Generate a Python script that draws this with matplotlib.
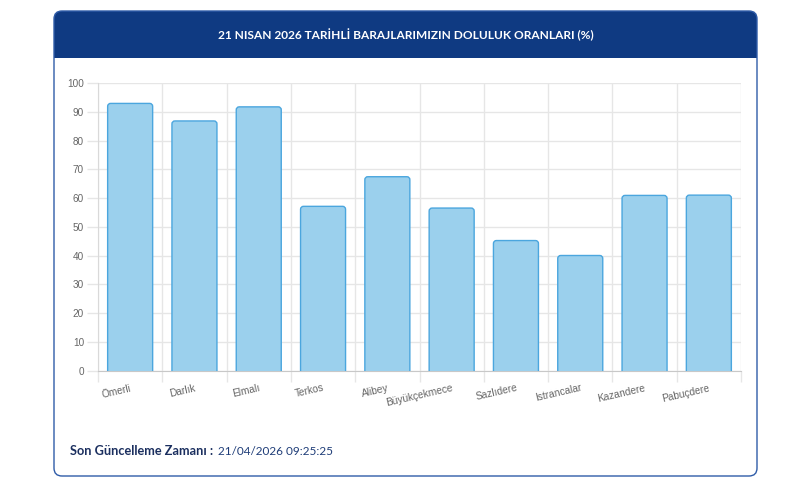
import matplotlib
matplotlib.use("Agg")
import matplotlib.pyplot as plt
from matplotlib.patches import FancyBboxPatch, Rectangle

barajlar = ["Ömerli", "Darlık", "Elmalı", "Terkos", "Alibey", "Büyükçekmece",
            "Sazlıdere", "Istrancalar", "Kazandere", "Pabuçdere"]
doluluk = [92.9, 86.8, 91.7, 57.1, 67.4, 56.5, 45.2, 40.0, 60.9, 61.0]
y_ticks = [0, 10, 20, 30, 40, 50, 60, 70, 80, 90, 100]

baslik = "21 NISAN 2026 TARİHLİ BARAJLARIMIZIN DOLULUK ORANLARI (%)"
guncelleme_etiket = "Son Güncelleme Zamanı :"
guncelleme_zaman = "21/04/2026 09:25:25"

W, H = 800, 486
fig = plt.figure(figsize=(W / 100, H / 100), dpi=100)
fig.patch.set_facecolor("white")

# background card drawn in pixel coordinates
bg = fig.add_axes([0, 0, 1, 1], zorder=0)
bg.set_xlim(0, W)
bg.set_ylim(H, 0)
bg.axis("off")

navy = "#0f3a82"
bg.add_patch(FancyBboxPatch((54, 11), 703, 47, boxstyle="round,pad=0,rounding_size=8",
                            facecolor=navy, edgecolor="none"))
bg.add_patch(Rectangle((54, 40), 703, 18, facecolor=navy, edgecolor="none"))
bg.add_patch(FancyBboxPatch((54, 11), 703, 465, boxstyle="round,pad=0,rounding_size=8",
                            facecolor="none", edgecolor="#2f5ca8", linewidth=1))
bg.text(405.5, 35, baslik, color="white", fontsize=8.6, fontweight="bold",
        family="Lato", ha="center", va="center")
t1 = bg.text(70, 451, guncelleme_etiket + " ", color="#1b2f5f", fontsize=9.2,
             fontweight="bold", family="Lato", ha="left", va="center")
fig.canvas.draw()
bb = t1.get_window_extent()
bg.text(bb.x1 + 2, 451, guncelleme_zaman, color="#1f3d78", fontsize=8.5,
        family="Lato", ha="left", va="center")

# chart
ax = fig.add_axes([98 / W, 1 - 370.5 / H, 643 / W, 287.5 / H], zorder=1)
ax.set_facecolor("none")
x = list(range(len(barajlar)))
bars = ax.bar(x, doluluk, width=0.7, color="none", edgecolor="none")

# rounded bars built from the bar geometry
px_x = 643 / len(barajlar)
px_y = 287.5 / 100
for r in bars:
    bx, bw, bh = r.get_x(), r.get_width(), r.get_height()
    ax.add_patch(FancyBboxPatch((bx, -4), bw, bh + 4,
                                boxstyle="round,pad=0,rounding_size=%f" % (3 / px_x),
                                mutation_aspect=px_x / px_y,
                                facecolor="#9bd0ed", edgecolor="#4ba6de",
                                linewidth=1.0, zorder=3))

ax.set_xlim(-0.5, len(barajlar) - 0.5)
ax.set_ylim(0, 100)
ax.set_yticks(y_ticks)
ax.set_xticks(x)
ax.set_xticklabels(barajlar, rotation=13, ha="right", rotation_mode="anchor",
                   family="Liberation Sans", fontsize=7.3, color="#666666")
ax.set_xticks([i - 0.5 for i in range(len(barajlar) + 1)], minor=True)
ax.tick_params(axis="x", which="major", length=0, pad=9)
ax.tick_params(axis="x", which="minor", length=8, color="#e6e6e6", width=1)
ax.tick_params(axis="y", length=8, color="#e6e6e6", width=1, pad=2,
               labelsize=7.2, labelcolor="#666666")
for lab in ax.get_yticklabels():
    lab.set_family("Liberation Sans")
ax.grid(axis="y", color="#e6e6e6", linewidth=1)
ax.grid(axis="x", which="minor", color="#e6e6e6", linewidth=1)
ax.set_axisbelow(True)
for s in ["top", "right"]:
    ax.spines[s].set_visible(False)
ax.spines["left"].set_color("#d9d9d9")
ax.spines["bottom"].set_color("#c8c8c8")

fig.savefig("out.png", dpi=100)
